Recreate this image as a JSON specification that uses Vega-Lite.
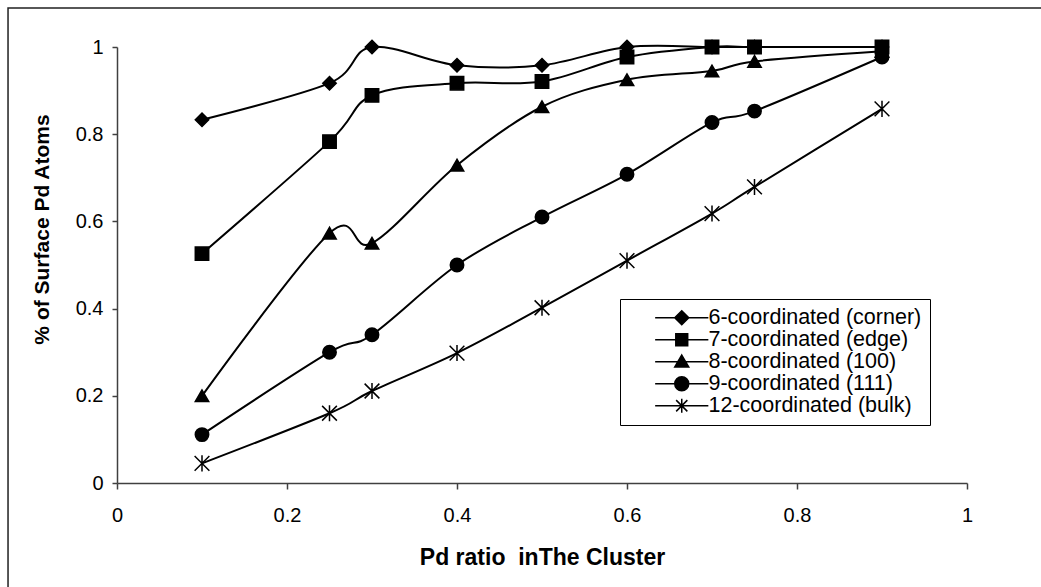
{
  "$schema": "https://vega.github.io/schema/vega-lite/v6.json",
  "width": 850,
  "height": 436,
  "autosize": {"type": "none"},
  "padding": {"left": 117, "top": 47, "right": 74, "bottom": 104},
  "background": "white",
  "config": {
    "font": "Liberation Sans",
    "view": {"stroke": null},
    "axis": {
      "domainColor": "#404040",
      "domainWidth": 1.5,
      "tickColor": "#404040",
      "tickWidth": 1.5,
      "grid": false,
      "labelFont": "Liberation Sans",
      "labelFontSize": 20,
      "labelColor": "black",
      "labelFlush": false,
      "titleFont": "Liberation Sans",
      "titleFontWeight": "bold",
      "titleColor": "black"
    },
    "legend": {
      "labelFont": "Liberation Sans",
      "labelFontSize": 21.5,
      "labelColor": "black",
      "labelLimit": 0
    }
  },
  "data": {
    "values": [
      {"x": 0.1, "y": 0.833, "series": "6-coordinated (corner)"},
      {"x": 0.25, "y": 0.917, "series": "6-coordinated (corner)"},
      {"x": 0.3, "y": 1.0, "series": "6-coordinated (corner)"},
      {"x": 0.4, "y": 0.958, "series": "6-coordinated (corner)"},
      {"x": 0.5, "y": 0.958, "series": "6-coordinated (corner)"},
      {"x": 0.6, "y": 1.0, "series": "6-coordinated (corner)"},
      {"x": 0.7, "y": 1.0, "series": "6-coordinated (corner)"},
      {"x": 0.75, "y": 1.0, "series": "6-coordinated (corner)"},
      {"x": 0.9, "y": 1.0, "series": "6-coordinated (corner)"},
      {"x": 0.1, "y": 0.526, "series": "7-coordinated (edge)"},
      {"x": 0.25, "y": 0.783, "series": "7-coordinated (edge)"},
      {"x": 0.3, "y": 0.889, "series": "7-coordinated (edge)"},
      {"x": 0.4, "y": 0.917, "series": "7-coordinated (edge)"},
      {"x": 0.5, "y": 0.921, "series": "7-coordinated (edge)"},
      {"x": 0.6, "y": 0.977, "series": "7-coordinated (edge)"},
      {"x": 0.7, "y": 1.0, "series": "7-coordinated (edge)"},
      {"x": 0.75, "y": 1.0, "series": "7-coordinated (edge)"},
      {"x": 0.9, "y": 1.0, "series": "7-coordinated (edge)"},
      {"x": 0.1, "y": 0.2, "series": "8-coordinated (100)"},
      {"x": 0.25, "y": 0.573, "series": "8-coordinated (100)"},
      {"x": 0.3, "y": 0.55, "series": "8-coordinated (100)"},
      {"x": 0.4, "y": 0.729, "series": "8-coordinated (100)"},
      {"x": 0.5, "y": 0.863, "series": "8-coordinated (100)"},
      {"x": 0.6, "y": 0.925, "series": "8-coordinated (100)"},
      {"x": 0.7, "y": 0.945, "series": "8-coordinated (100)"},
      {"x": 0.75, "y": 0.967, "series": "8-coordinated (100)"},
      {"x": 0.9, "y": 0.99, "series": "8-coordinated (100)"},
      {"x": 0.1, "y": 0.111, "series": "9-coordinated (111)"},
      {"x": 0.25, "y": 0.3, "series": "9-coordinated (111)"},
      {"x": 0.3, "y": 0.34, "series": "9-coordinated (111)"},
      {"x": 0.4, "y": 0.5, "series": "9-coordinated (111)"},
      {"x": 0.5, "y": 0.61, "series": "9-coordinated (111)"},
      {"x": 0.6, "y": 0.708, "series": "9-coordinated (111)"},
      {"x": 0.7, "y": 0.827, "series": "9-coordinated (111)"},
      {"x": 0.75, "y": 0.853, "series": "9-coordinated (111)"},
      {"x": 0.9, "y": 0.977, "series": "9-coordinated (111)"},
      {"x": 0.1, "y": 0.045, "series": "12-coordinated (bulk)"},
      {"x": 0.25, "y": 0.16, "series": "12-coordinated (bulk)"},
      {"x": 0.3, "y": 0.211, "series": "12-coordinated (bulk)"},
      {"x": 0.4, "y": 0.298, "series": "12-coordinated (bulk)"},
      {"x": 0.5, "y": 0.402, "series": "12-coordinated (bulk)"},
      {"x": 0.6, "y": 0.51, "series": "12-coordinated (bulk)"},
      {"x": 0.7, "y": 0.618, "series": "12-coordinated (bulk)"},
      {"x": 0.75, "y": 0.679, "series": "12-coordinated (bulk)"},
      {"x": 0.9, "y": 0.858, "series": "12-coordinated (bulk)"}
    ]
  },
  "encoding": {
    "x": {
      "field": "x",
      "type": "quantitative",
      "scale": {"domain": [0, 1], "nice": false, "zero": false},
      "axis": {
        "title": "Pd ratio \u00a0inThe Cluster",
        "titleFontSize": 23,
        "values": [0, 0.2, 0.4, 0.6, 0.8, 1],
        "format": "~g",
        "tickSize": 6,
        "labelPadding": 16,
        "titleY": 74,
        "titleBaseline": "middle"
      }
    },
    "y": {
      "field": "y",
      "type": "quantitative",
      "scale": {"domain": [0, 1], "nice": false, "zero": false},
      "axis": {
        "title": "% of Surface Pd Atoms",
        "titleFontSize": 21,
        "values": [0, 0.2, 0.4, 0.6, 0.8, 1],
        "format": "~g",
        "tickSize": 5,
        "labelPadding": 9,
        "titleX": -75,
        "titleY": 182,
        "titleAlign": "center",
        "titleBaseline": "middle"
      }
    }
  },
  "layer": [
    {
      "mark": {
        "type": "rect",
        "fill": null,
        "stroke": "#202020",
        "strokeWidth": 1.5,
        "clip": false
      },
      "encoding": {
        "x": {"datum": -0.1282, "type": "quantitative"},
        "x2": {"datum": 1.1},
        "y": {"datum": 1.0894, "type": "quantitative"},
        "y2": {"datum": -0.25}
      },
      "transform": [{"filter": "datum.x == 0.1 && datum.series == '6-coordinated (corner)'"}]
    },
    {
      "mark": {
        "type": "line",
        "interpolate": "cardinal",
        "tension": 0,
        "color": "black",
        "strokeWidth": 2
      },
      "encoding": {
        "detail": {"field": "series"}
      }
    },
    {
      "mark": {
        "type": "point",
        "filled": true,
        "color": "black",
        "stroke": "black",
        "strokeWidth": 1.5,
        "size": 180,
        "opacity": 1
      },
      "encoding": {
        "shape": {
          "field": "series",
          "type": "nominal",
          "legend": null,
          "scale": {
            "domain": ["6-coordinated (corner)", "7-coordinated (edge)", "8-coordinated (100)", "9-coordinated (111)", "12-coordinated (bulk)"],
            "range": ["diamond", "square", "triangle-up", "circle", "M-1.1,-1.1L1.1,1.1M-1.1,1.1L1.1,-1.1M0,-1.2L0,1.2"]
          }
        }
      }
    },
    {
      "transform": [{"filter": "datum.x < 0"}],
      "mark": {
        "type": "point",
        "filled": true,
        "color": "black",
        "stroke": "black",
        "strokeWidth": 1.5,
        "size": 49,
        "opacity": 1
      },
      "encoding": {
        "shape": {
          "field": "series",
          "type": "nominal",
          "scale": {
            "domain": ["6-coordinated (corner)", "7-coordinated (edge)", "8-coordinated (100)", "9-coordinated (111)", "12-coordinated (bulk)"],
            "range": [
              "M-7.6,0H7.6M0,-2L2,0L0,2L-2,0Z",
              "M-7.6,0H7.6M-1.7,-1.7H1.7V1.7H-1.7Z",
              "M-7.6,0H7.6M0,-1.9L2,1.5H-2Z",
              "M-7.6,0H7.6M2,0A2,2,0,1,1,-2,0A2,2,0,1,1,2,0Z",
              "M-7.6,0H7.6M-1.6,-1.6L1.6,1.6M-1.6,1.6L1.6,-1.6M0,-2L0,2"
            ]
          },
          "legend": {
            "title": null,
            "orient": "none",
            "legendX": 503,
            "legendY": 252,
            "padding": 8,
            "strokeColor": "black",
            "fillColor": "white",
            "symbolSize": 49,
            "symbolOffset": 43,
            "labelOffset": 16,
            "rowPadding": -1,
            "labelExpr": "datum.label + '\u00a0\u00a0\u00a0'",
            "encode": {
              "symbols": {
                "update": {
                  "fill": {"value": "black"},
                  "stroke": {"value": "black"},
                  "strokeWidth": {"value": 1.5},
                  "opacity": {"value": 1}
                }
              }
            }
          }
        }
      }
    }
  ],
  "resolve": {"scale": {"shape": "independent"}}
}
